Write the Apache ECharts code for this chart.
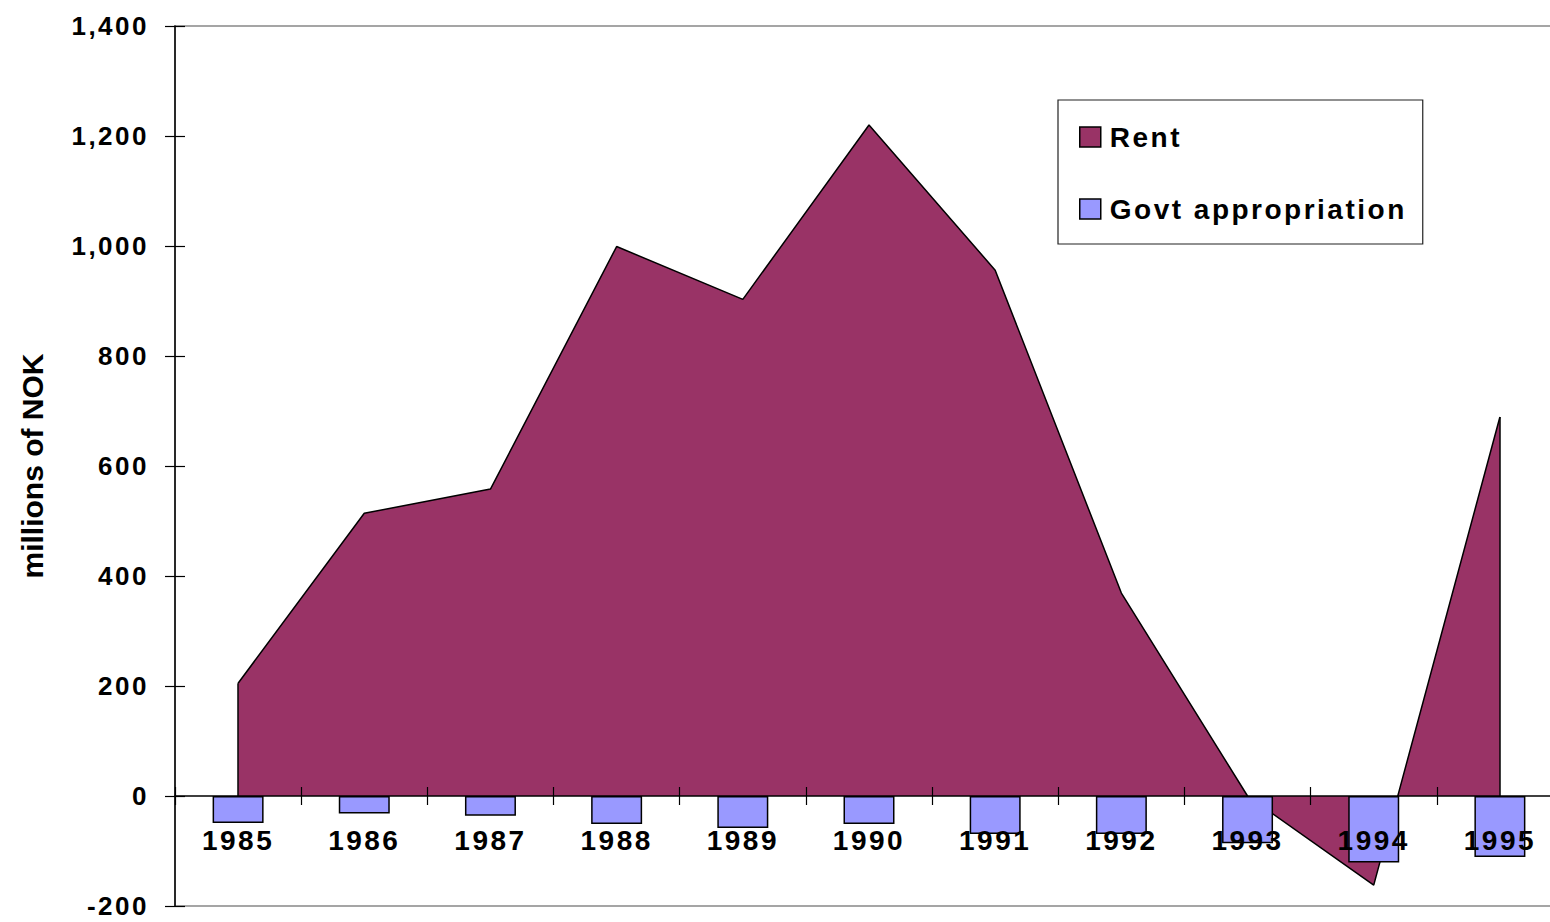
<!DOCTYPE html>
<html>
<head>
<meta charset="utf-8">
<script src="https://cdn.jsdelivr.net/npm/echarts@6/dist/echarts.min.js"></script>
<style>
  html, body { margin: 0; padding: 0; background: #fff; }
  #chart { width: 1550px; height: 922px; }
  /* Excel-style spaced lettering for the labels */
  #chart text { letter-spacing: 2.5px; }
  #chart text[style*="30px"] { letter-spacing: 0; }
</style>
</head>
<body>
<div id="chart"></div>
<script>
// data (millions of NOK)
const years = ['1985', '1986', '1987', '1988', '1989', '1990', '1991', '1992', '1993', '1994', '1995'];
const rent = [205, 514, 558, 999, 903, 1220, 956, 369, 0, -162, 689];
const govt = [-49, -32, -36, -51, -58, -51, -69, -69, -86, -121, -111];
const yTicks = { min: -200, max: 1400, interval: 200 };

const FONT = "'Liberation Sans', Arial, sans-serif";
const last = years.length - 1;

const gridH = 880;
// pixel distance from the bottom of the plot up to the zero line
const zeroOffset = gridH * (0 - yTicks.min) / (yTicks.max - yTicks.min);

const chart = echarts.init(document.getElementById('chart'), null, { renderer: 'svg' });

chart.setOption({
  animation: false,
  grid: {
    left: 175, top: 26, width: 1388, height: gridH,
    outerBoundsMode: 'none',
    containLabel: false,
    show: true, borderColor: '#888', borderWidth: 1.5, backgroundColor: 'transparent'
  },
  legend: {
    orient: 'vertical',
    left: 1058, top: 100,
    padding: [23, 61, 21, 21],
    itemWidth: 21, itemHeight: 20, itemGap: 44,
    borderColor: '#222', borderWidth: 1.2, backgroundColor: '#fff',
    icon: 'rect',
    itemStyle: { borderColor: '#000', borderWidth: 1.5 },
    textStyle: { fontFamily: FONT, fontWeight: 'bold', fontSize: 28, color: '#000', padding: [0, 0, 0, 4] },
    data: [
      { name: 'Rent', itemStyle: { color: '#993366' } },
      { name: 'Govt appropriation', itemStyle: { color: '#9999FF' } }
    ]
  },
  xAxis: [
    {
      type: 'category',
      data: years,
      z: 5,
      axisLine: { onZero: true, lineStyle: { color: '#000', width: 1.5 } },
      axisTick: { show: true, length: 9, lineStyle: { color: '#000', width: 1.2 } },
      axisLabel: { show: false }
    },
    {
      // year labels + upper half of the crossing ticks, sitting on the zero line
      type: 'category',
      data: years,
      position: 'bottom',
      offset: -zeroOffset,
      z: 6,
      axisLine: { show: false, onZero: false },
      axisTick: { show: true, inside: true, length: 9, lineStyle: { color: '#000', width: 1.2 } },
      axisLabel: { fontFamily: FONT, fontWeight: 'bold', fontSize: 28, color: '#000', margin: 30 }
    }
  ],
  yAxis: [
    {
      type: 'value',
      min: yTicks.min, max: yTicks.max, interval: yTicks.interval,
      name: 'millions of NOK',
      nameLocation: 'middle',
      nameGap: 128,
      nameTextStyle: { fontFamily: FONT, fontWeight: 'bold', fontSize: 30, color: '#000' },
      axisLine: { show: true, onZero: false, lineStyle: { color: '#000', width: 1.5 } },
      axisTick: { show: true, length: 10, lineStyle: { color: '#000', width: 1.2 } },
      axisLabel: {
        fontFamily: FONT, fontWeight: 'bold', fontSize: 26, color: '#000', margin: 26,
        formatter: v => v.toLocaleString('en-US')
      },
      splitLine: { show: false }
    },
    {
      type: 'value',
      position: 'left',
      min: yTicks.min, max: yTicks.max, interval: yTicks.interval,
      axisLine: { show: false, onZero: false },
      axisTick: { show: true, inside: true, length: 10, lineStyle: { color: '#000', width: 1.2 } },
      axisLabel: { show: false },
      splitLine: { show: false }
    }
  ],
  series: [
    {
      name: 'Rent',
      type: 'line',
      data: rent,
      z: 1,
      symbol: 'none',
      color: '#993366',
      lineStyle: { color: '#000', width: 1.5 },
      areaStyle: { color: '#993366', opacity: 1, origin: 0 },
      markLine: {
        silent: true,
        symbol: 'none',
        label: { show: false },
        lineStyle: { color: '#000', width: 1.5, type: 'solid' },
        data: [
          [{ coord: [years[0], 0] }, { coord: [years[0], rent[0]] }],
          [{ coord: [years[last], 0] }, { coord: [years[last], rent[last]] }]
        ]
      }
    },
    {
      name: 'Govt appropriation',
      type: 'bar',
      data: govt,
      z: 2,
      barWidth: 51,
      itemStyle: { color: '#9999FF', borderColor: '#000', borderWidth: 1.5 }
    }
  ]
});
</script>
</body>
</html>
